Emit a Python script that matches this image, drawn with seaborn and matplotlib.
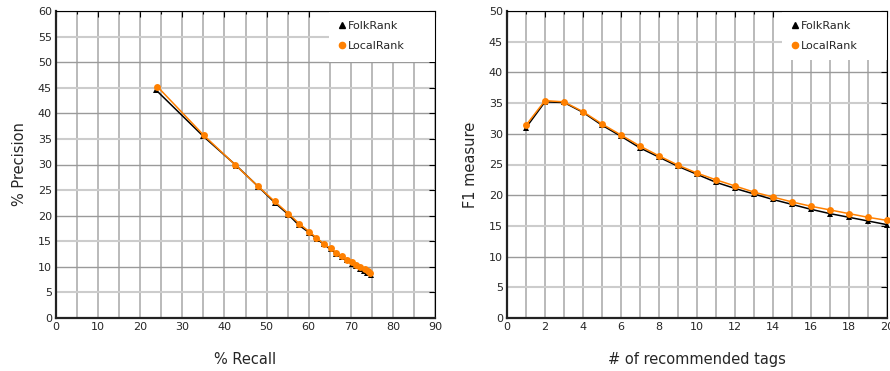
import numpy as np
import pandas as pd
import seaborn as sns
import matplotlib.pyplot as plt
from matplotlib.lines import Line2D
from matplotlib.patches import Rectangle
from matplotlib.ticker import MultipleLocator

# values
folk_recall = [23.7, 35.0, 42.8, 48.0, 52.0, 55.2, 57.6, 60.1, 61.9, 63.6,
               65.2, 66.6, 67.9, 69.0, 70.2, 71.2, 72.2, 73.1, 73.9, 74.8]
folk_precision = [44.6, 35.5, 29.8, 25.7, 22.5, 20.2, 18.2, 16.7, 15.5, 14.4,
                  13.4, 12.6, 11.9, 11.3, 10.6, 10.1, 9.6, 9.2, 8.8, 8.4]
local_recall = [24.1, 35.1, 42.6, 47.9, 51.9, 55.2, 57.8, 60.1, 61.8, 63.6,
                65.2, 66.6, 67.9, 69.1, 70.2, 71.3, 72.3, 73.3, 74.0, 74.6]
local_precision = [45.2, 35.7, 29.9, 25.8, 22.8, 20.4, 18.4, 16.9, 15.7, 14.5,
                   13.6, 12.8, 12.1, 11.4, 10.9, 10.4, 10.0, 9.6, 9.2, 8.8]

n_tags = list(range(1, 21))
folk_f1 = [31.0, 35.2, 35.1, 33.5, 31.4, 29.6, 27.7, 26.2, 24.7, 23.4,
           22.1, 21.1, 20.2, 19.3, 18.5, 17.7, 17.0, 16.4, 15.8, 15.2]
local_f1 = [31.4, 35.4, 35.2, 33.6, 31.6, 29.8, 28.0, 26.4, 24.9, 23.6,
            22.5, 21.5, 20.5, 19.7, 18.9, 18.2, 17.6, 17.0, 16.4, 15.9]

sns.set_style('white')
plt.rcParams['font.family'] = ['DejaVu Sans']

BLACK = '#000000'
ORANGE = '#ff8000'

fig = plt.figure(figsize=(8.9, 3.71), dpi=100)
ax1 = fig.add_axes([56 / 890, 1 - 318 / 371, 379 / 890, 307 / 371])
ax2 = fig.add_axes([507 / 890, 1 - 318 / 371, 380 / 890, 307 / 371])


def style_axes(ax, xmaj, xmin, xmax, ymax):
    ax.set_xlim(0, xmax)
    ax.set_ylim(0, ymax)
    ax.xaxis.set_major_locator(MultipleLocator(xmaj))
    ax.xaxis.set_minor_locator(MultipleLocator(xmin))
    ax.yaxis.set_major_locator(MultipleLocator(5))
    ax.grid(True, which='major', axis='y', color='#9a9a9a', linewidth=1.0)
    ax.grid(True, which='both', axis='x', color='#b4b4b4', linewidth=1.3)
    ax.set_axisbelow(True)
    ax.tick_params(which='both', direction='in', top=True, right=True,
                   labelsize=8, color='black', pad=3)
    ax.tick_params(which='major', length=4, width=0.8)
    ax.tick_params(which='minor', length=2.5, width=0.8)
    for side in ['left', 'bottom']:
        ax.spines[side].set_linewidth(1.6)
        ax.spines[side].set_color('#222222')
    for side in ['top', 'right']:
        ax.spines[side].set_linewidth(0.8)
        ax.spines[side].set_color('black')
    # lighter horizontal lines at odd multiples of 5
    for gl, v in zip(ax.get_ygridlines(), ax.get_yticks()):
        if int(round(v)) % 10 == 5:
            gl.set_color('#cccccc')
            gl.set_linewidth(1.5)


def add_legend(ax, x0, y0):
    # white box hiding the grid behind the legend, reaching to the right edge
    ax.add_patch(Rectangle((x0, y0), 1 - x0, 1 - y0, transform=ax.transAxes,
                           facecolor='white', edgecolor='none', zorder=2.5))
    handles = [Line2D([], [], linestyle='none', marker='^', color=BLACK, markersize=5),
               Line2D([], [], linestyle='none', marker='o', color=ORANGE, markersize=4.5)]
    ax.legend(handles, ['FolkRank', 'LocalRank'], loc='upper left',
              bbox_to_anchor=(x0, 1.0), frameon=False, fontsize=8,
              handlelength=0.6, handletextpad=0.2, borderpad=0.9,
              labelspacing=0.9, borderaxespad=0)


# left: precision vs recall
pr = pd.DataFrame({'recall': folk_recall, 'precision': folk_precision})
pr_local = pd.DataFrame({'recall': local_recall, 'precision': local_precision})
sns.lineplot(data=pr, x='recall', y='precision', sort=False, ax=ax1, color=BLACK,
             marker='^', markersize=5, markeredgewidth=0, linewidth=1.1, zorder=3)
sns.lineplot(data=pr_local, x='recall', y='precision', sort=False, ax=ax1, color=ORANGE,
             marker='o', markersize=5, markeredgewidth=0, linewidth=1.1, zorder=4)
style_axes(ax1, 10, 5, 90, 60)
ax1.set_xlabel('% Recall', fontsize=10.5, labelpad=14)
ax1.set_ylabel('% Precision', fontsize=10.5, labelpad=8)
add_legend(ax1, 0.72, 0.834)

# right: F1 vs number of tags
f1 = pd.DataFrame({'k': n_tags, 'FolkRank': folk_f1, 'LocalRank': local_f1})
sns.lineplot(data=f1, x='k', y='FolkRank', ax=ax2, color=BLACK, marker='^',
             markersize=5, markeredgewidth=0, linewidth=1.1, zorder=3, clip_on=False)
sns.lineplot(data=f1, x='k', y='LocalRank', ax=ax2, color=ORANGE, marker='o',
             markersize=5, markeredgewidth=0, linewidth=1.1, zorder=4, clip_on=False)
style_axes(ax2, 2, 1, 20, 50)
ax2.set_xlabel('# of recommended tags', fontsize=10.5, labelpad=14)
ax2.set_ylabel('F1 measure', fontsize=10.5, labelpad=8)
add_legend(ax2, 0.724, 0.84)

fig.savefig('out.png', dpi=100)
